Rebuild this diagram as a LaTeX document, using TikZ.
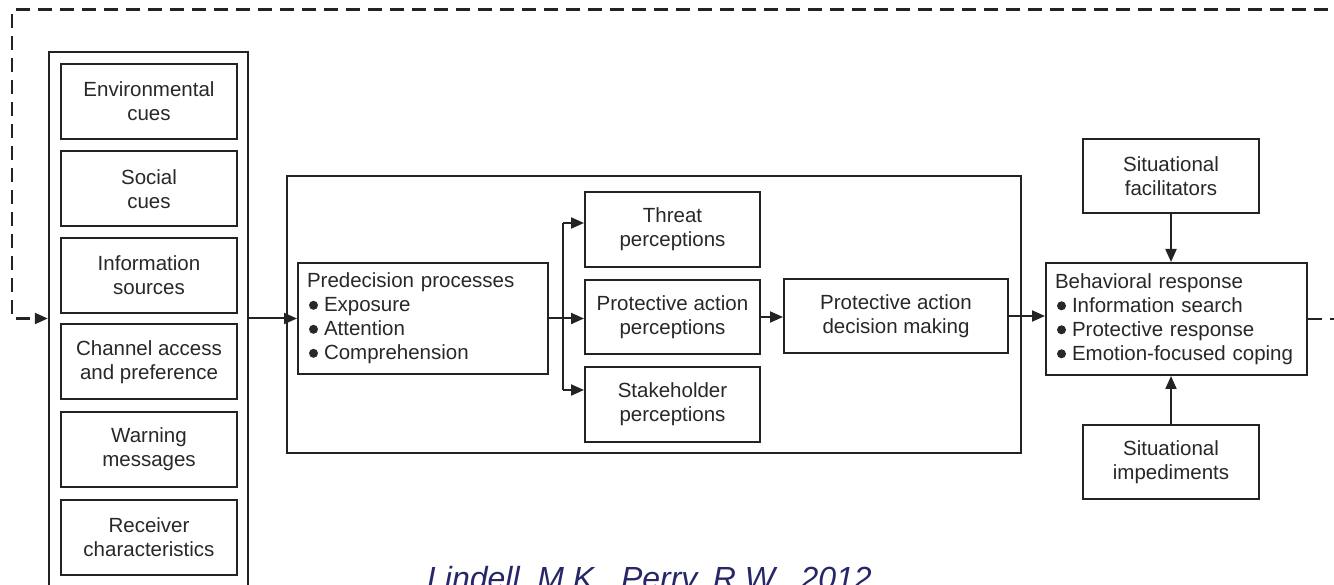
\documentclass[tikz,border=0pt]{standalone}
\usepackage{fontspec}
\setmainfont{Liberation Sans}
\usetikzlibrary{arrows.meta,calc}
\definecolor{ln}{RGB}{35,35,35}
\definecolor{tx}{RGB}{40,40,40}
\definecolor{citec}{RGB}{38,38,105}
\newcommand\bul{\hspace*{2pt}\tikz[baseline={(0pt,-6.5pt)}]\fill[tx] (0pt,0pt) circle (4.5pt);\hspace{6pt}}
\tikzset{
  box/.style={draw=ln, line width=2pt, text=tx, align=center, inner sep=0pt,
    font=\fontsize{20.5}{24}\selectfont},
  lbox/.style={box, align=left, inner xsep=9pt, inner ysep=0pt},
  conn/.style={draw=ln, line width=2pt},
  arr/.style={conn, -{Triangle[length=13pt,width=11pt]}},
  dsh/.style={draw=ln, line width=2.2pt, dash pattern=on 14pt off 8pt},
}
\begin{document}
\begin{tikzpicture}[x=1pt,y=-1pt]
\useasboundingbox (0,0) rectangle (1334,585);
\clip (0,0) rectangle (1334,585);
\fill[white] (0,0) rectangle (1334,585);

% left column
\node[box, line width=2.4pt, minimum width=199pt, minimum height=548pt] (outer) at (148.5,326) {};
\node[box, minimum width=176pt, minimum height=75pt] (env) at (149,101.5) {Environmental\\cues};
\node[box, minimum width=176pt, minimum height=75pt] (soc) at (149,189) {Social\\cues};
\node[box, minimum width=176pt, minimum height=75pt] (inf) at (149,275.5) {Information\\sources};
\node[box, minimum width=176pt, minimum height=75pt] (chn) at (149,362) {Channel access\\and preference};
\node[box, minimum width=176pt, minimum height=75pt] (wrn) at (149,449.5) {Warning\\messages};
\node[box, minimum width=176pt, minimum height=75pt] (rcv) at (149,537) {Receiver\\characteristics};

% middle container
\node[box, line width=2.4pt, minimum width=734pt, minimum height=277pt] (mid) at (654,314.5) {};
\node[lbox, text width=232pt, minimum height=111pt] (pre) at (423,318.5)
  {Predecision processes\\\bul Exposure\\\bul Attention\\\bul Comprehension};
\node[box, minimum width=175pt, minimum height=75pt] (thr) at (672.5,229.5) {Threat\\perceptions};
\node[box, minimum width=175pt, minimum height=74pt] (pap) at (672.5,317) {Protective action\\perceptions};
\node[box, minimum width=175pt, minimum height=75pt] (stk) at (672.5,404.5) {Stakeholder\\perceptions};
\node[box, minimum width=224pt, minimum height=74pt] (dec) at (896,316) {Protective action\\decision making};

% right side
\node[lbox, text width=243pt, minimum height=112pt] (beh) at (1176.5,319)
  {Behavioral response\\\bul Information search\\\bul Protective response\\\bul Emotion-focused coping};
\node[box, minimum width=176pt, minimum height=74pt] (fac) at (1171,176) {Situational\\facilitators};
\node[box, minimum width=176pt, minimum height=74pt] (imp) at (1171,462) {Situational\\impediments};

% citation
\node[anchor=base west, inner sep=0pt, text=citec, font=\fontsize{32}{36}\selectfont\itshape] (cite) at (427,589)
  {Lindell, M.K., Perry, R.W., 2012};

% connectors
\coordinate (ne) at (1350,9.5);
\coordinate (nw) at (12,9.5);
\draw[dsh, -{Triangle[length=13pt,width=11pt]}] (beh.east) -| (ne) -- (nw) |- (outer.west |- pre.west);
\draw[arr] (outer.east |- pre.west) -- (pre.west);
\draw[conn] (pre.east) -- ++(14,0) coordinate (br);
\coordinate (bt) at ($(br |- thr.west)+(0,-6.5)$);
\coordinate (bs) at ($(br |- stk.west)+(0,-14.5)$);
\draw[conn] (bt) -- (bs);
\draw[arr] (bt) -- (bt -| thr.west);
\draw[arr] (br) -- (br -| pap.west);
\draw[arr] (bs) -- (bs -| stk.west);
\draw[arr] (pap.east) -- (pap.east -| dec.west);
\draw[arr] (dec.east) -- (dec.east -| beh.west);
\draw[arr] (fac.south) -- (fac.south |- beh.north);
\draw[arr] (imp.north) -- (imp.north |- beh.south);
\end{tikzpicture}
\end{document}
